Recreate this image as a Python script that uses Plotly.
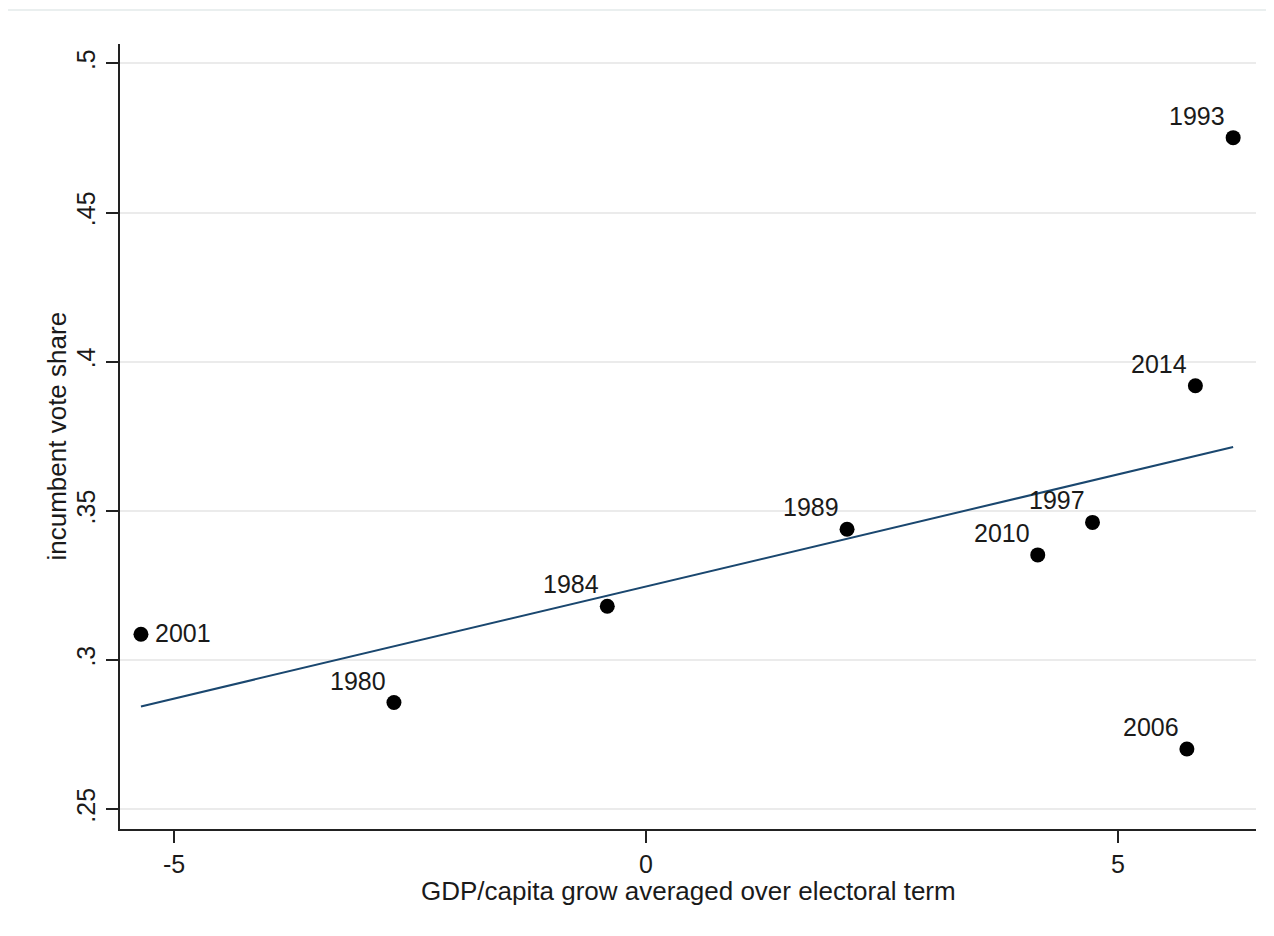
import numpy as np
import plotly.graph_objects as go

# Data
years = ["2001", "1980", "1984", "1989", "2010", "1997", "2014", "1993", "2006"]
gdp_growth = [-5.35, -2.67, -0.41, 2.13, 4.15, 4.73, 5.82, 6.22, 5.73]
vote_share = [0.3086, 0.2857, 0.3180, 0.3438, 0.3352, 0.3461, 0.3919, 0.4751, 0.2701]

x_ticks = [-5, 0, 5]
x_tick_text = ["-5", "0", "5"]
y_ticks = [0.25, 0.30, 0.35, 0.40, 0.45, 0.50]
y_tick_text = [".25", ".3", ".35", ".4", ".45", ".5"]

x_title = "GDP/capita grow averaged over electoral term"
y_title = "incumbent vote share"

FONT = "Liberation Sans, Arial, sans-serif"
LINE_COLOR = "#1a476f"
TEXT_COLOR = "#1a1a1a"

# Linear fit (like Stata lfit) computed from the data
xa = np.array(gdp_growth)
ya = np.array(vote_share)
slope, intercept = np.polyfit(xa, ya, 1)
fit_x = [xa.min(), xa.max()]
fit_y = [intercept + slope * v for v in fit_x]

fig = go.Figure()
fig.add_trace(go.Scatter(
    x=gdp_growth, y=vote_share, mode="markers",
    marker=dict(color="black", size=15, line=dict(width=0)),
    showlegend=False, hoverinfo="skip"))
fig.add_trace(go.Scatter(
    x=fit_x, y=fit_y, mode="lines",
    line=dict(color=LINE_COLOR, width=2),
    showlegend=False, hoverinfo="skip"))

# Marker labels
for yr, xv, yv in zip(years, gdp_growth, vote_share):
    if yr == "2001":
        fig.add_annotation(x=xv, y=yv, xref="x", yref="y", text=yr,
                           showarrow=False, xanchor="left", yanchor="middle",
                           xshift=12, yshift=1,
                           font=dict(family=FONT, size=25, color=TEXT_COLOR))
    else:
        fig.add_annotation(x=xv, y=yv, xref="x", yref="y", text=yr,
                           showarrow=False, xanchor="right", yanchor="middle",
                           xshift=-6, yshift=22,
                           font=dict(family=FONT, size=25, color=TEXT_COLOR))

# The page body has an 8px margin; target screen pixels are offset by it.
OFF = 8
W, H = 1274, 936
L, R, T, B = 120 - OFF, 1256 - OFF, 44 - OFF, 829 - OFF
pw, ph = R - L, B - T

def px_to_paper_x(px):
    return (px - OFF - L) / pw

def px_to_paper_y(py):
    return (B - (py - OFF)) / ph

# Axis titles
fig.add_annotation(text=x_title, xref="paper", yref="paper",
                   x=0.5, y=px_to_paper_y(891), xanchor="center", yanchor="middle",
                   showarrow=False, font=dict(family=FONT, size=26, color=TEXT_COLOR))
fig.add_annotation(text=y_title, xref="paper", yref="paper",
                   x=px_to_paper_x(56), y=0.5, xanchor="center", yanchor="middle",
                   textangle=-90, showarrow=False,
                   font=dict(family=FONT, size=26, color=TEXT_COLOR))

# Faint outer frame
fig.add_shape(type="rect", xref="paper", yref="paper",
              x0=px_to_paper_x(7), x1=px_to_paper_x(1300),
              y0=px_to_paper_y(960), y1=px_to_paper_y(10),
              line=dict(color="#e4eaea", width=1.5), layer="below")

fig.update_layout(
    width=W, height=H,
    margin=dict(l=L, r=W - R, t=T, b=H - B, pad=0),
    paper_bgcolor="white", plot_bgcolor="white",
    font=dict(family=FONT, size=25, color=TEXT_COLOR),
    showlegend=False,
)
fig.update_xaxes(
    range=[-5.572, 6.462], tickvals=x_ticks, ticktext=x_tick_text,
    showgrid=False, zeroline=False,
    showline=True, linecolor="#222", linewidth=2,
    ticks="outside", ticklen=12, tickwidth=2, tickcolor="#222",
    tickfont=dict(family=FONT, size=25, color=TEXT_COLOR),
    ticklabelstandoff=0,
)
fig.update_yaxes(
    range=[0.2433, 0.5065], tickvals=y_ticks, ticktext=y_tick_text,
    showgrid=True, gridcolor="#ebebeb", gridwidth=1.5, zeroline=False,
    showline=True, linecolor="#222", linewidth=2,
    ticks="outside", ticklen=12, tickwidth=2, tickcolor="#222",
    tickangle=-90,
    tickfont=dict(family=FONT, size=25, color=TEXT_COLOR),
    ticklabelstandoff=1,
)

fig.write_html("out.html")
